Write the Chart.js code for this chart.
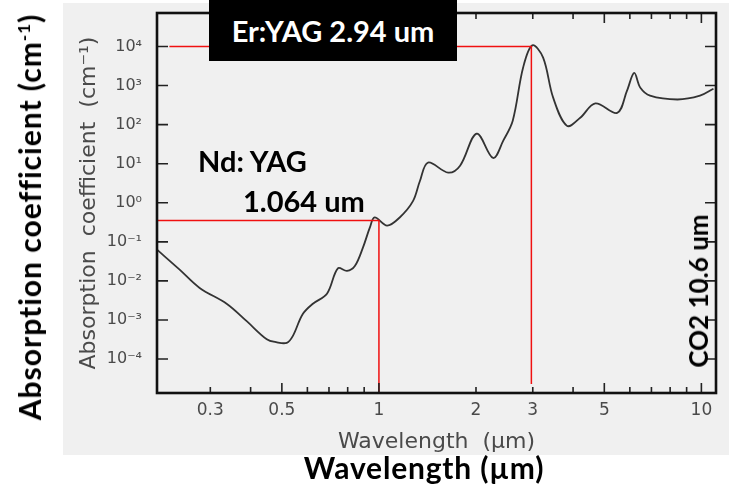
<!DOCTYPE html>
<html>
<head>
<meta charset="utf-8">
<script src="https://cdn.jsdelivr.net/npm/chart.js@4/dist/chart.umd.min.js"></script>
<style>
  html, body { margin: 0; padding: 0; background: #fff; }
  #wrap { position: relative; width: 729px; height: 487px; overflow: hidden; }
  #scan { position: absolute; left: 63px; top: 3px; width: 666px; height: 452px; background: #f0f0f0; }
  canvas { position: absolute; left: 0; top: 0; }
  .lbl { position: absolute; font-family: "Lato", "Open Sans", sans-serif; font-weight: 700; color: #000; white-space: nowrap; line-height: 1; }
  #erBox { left: 209px; top: 0; width: 248px; height: 61px; background: #000; color: #fff; font-size: 29px; display: flex; align-items: center; justify-content: center; }
  #nd1 { left: 198px; top: 146px; font-size: 29px; }
  #nd2 { left: 243px; top: 186px; font-size: 29px; }
  #co2 { left: 698px; top: 291px; font-size: 26px; transform: translate(-50%, -50%) rotate(-90deg); }
  #yTitle { left: 29px; top: 217px; font-size: 30px; letter-spacing: 1px; transform: translate(-50%, -50%) rotate(-90deg); }
  #yTitle sup { font-size: 17px; vertical-align: 11px; }
  #xTitle { left: 424px; top: 467px; font-size: 30px; letter-spacing: 0.8px; transform: translate(-50%, -50%); }
</style>
</head>
<body>
<div id="wrap">
  <div id="scan"></div>
  <canvas id="chart" width="729" height="487"></canvas>
  <div class="lbl" id="erBox">Er:YAG 2.94 um</div>
  <div class="lbl" id="nd1">Nd: YAG</div>
  <div class="lbl" id="nd2">1.064 um</div>
  <div class="lbl" id="co2">CO2 10.6 um</div>
  <div class="lbl" id="yTitle">Absorption coefficient (cm<sup>-1</sup>)</div>
  <div class="lbl" id="xTitle">Wavelength (µm)</div>
</div>
<script>
// absorption of water
const wavelengths = [0.205, 0.24, 0.278, 0.337, 0.389, 0.449, 0.48, 0.518, 0.541, 0.58, 0.624, 0.69, 0.746, 0.796, 0.842, 0.892, 0.937, 0.97,
  1.06, 1.16, 1.275, 1.34, 1.42, 1.64, 1.785, 2.01, 2.26, 2.43, 2.6, 2.8, 2.99, 3.23, 3.47, 3.83, 4.21, 4.69, 5.48, 5.88, 6.19, 6.46, 6.93, 8.43, 9.9, 10.9];
const absorption = [0.063, 0.02, 0.0066, 0.0026, 0.00093, 0.00032, 0.00027, 0.00026, 0.00039, 0.0014, 0.0026, 0.0047, 0.021, 0.018, 0.024, 0.071, 0.23, 0.42,
  0.26, 0.42, 1.1, 3.6, 10.7, 5.9, 8.9, 59, 14, 39, 126, 2900, 10700, 5200, 490, 93, 150, 350, 200, 740, 2100, 890, 550, 440, 550, 830];

// laser marker lines
const ndWavelength = 1.0;
const ndLevel = 0.35;
const erWavelength = 2.97;
const erLevel = 1e4;
const erLineStart = 0.224;
const erLineEnd = 2.3e-5;

const xMin = 0.205, xMax = 11.1;
const yMin = 1.35e-5, yMax = 7.2e4;
const yExponents = [-4, -3, -2, -1, 0, 1, 2, 3, 4];
const xTickValues = [0.3, 0.4, 0.5, 0.6, 0.7, 0.8, 0.9, 1, 2, 3, 4, 5, 6, 7, 8, 9, 10];
const xTickLabels = { 0.3: "0.3", 0.5: "0.5", 1: "1", 2: "2", 3: "3", 5: "5", 10: "10" };
const xMajor = [0.5, 1, 5, 10];

const sup = { "-": "⁻", "0": "⁰", "1": "¹", "2": "²", "3": "³", "4": "⁴" };
const powLabel = (v) => "10" + String(Math.round(Math.log10(v))).split("").map((c) => sup[c]).join("");

const scanFont = "'DejaVu Sans', 'Liberation Sans', sans-serif";
const scanGray = "#4a4a4a";

// inward tick marks and a closed frame, like the printed figure
const frame = {
  id: "frame",
  afterDraw(chart) {
    const { ctx, chartArea: a, scales } = chart;
    ctx.save();
    ctx.strokeStyle = "#222";
    ctx.lineWidth = 1.6;
    ctx.beginPath();
    for (const t of scales.x.ticks) {
      const px = scales.x.getPixelForValue(t.value);
      const len = xMajor.includes(t.value) ? 10 : 6;
      ctx.moveTo(px, a.bottom); ctx.lineTo(px, a.bottom - len);
      ctx.moveTo(px, a.top); ctx.lineTo(px, a.top + len);
    }
    for (const t of scales.y.ticks) {
      const py = scales.y.getPixelForValue(t.value);
      ctx.moveTo(a.left, py); ctx.lineTo(a.left + 11, py);
      ctx.moveTo(a.right, py); ctx.lineTo(a.right - 11, py);
    }
    ctx.stroke();
    ctx.lineWidth = 2.6;
    ctx.strokeStyle = "#111";
    ctx.strokeRect(a.left, a.top, a.right - a.left, a.bottom - a.top);
    ctx.restore();
  }
};

new Chart(document.getElementById("chart"), {
  type: "line",
  data: {
    datasets: [
      {
        data: wavelengths.map((w, i) => ({ x: w, y: absorption[i] })),
        borderColor: "#333",
        borderWidth: 1.8,
        pointRadius: 0,
        tension: 0.35,
        order: 2
      },
      {
        data: [{ x: xMin, y: ndLevel }, { x: ndWavelength, y: ndLevel }, { x: ndWavelength, y: yMin }],
        borderColor: "#f01010",
        borderWidth: 1.5,
        pointRadius: 0,
        tension: 0,
        order: 1
      },
      {
        data: [{ x: erLineStart, y: erLevel }, { x: erWavelength, y: erLevel }, { x: erWavelength, y: erLineEnd }],
        borderColor: "#f01010",
        borderWidth: 1.5,
        pointRadius: 0,
        tension: 0,
        order: 1
      }
    ]
  },
  options: {
    responsive: false,
    devicePixelRatio: 1,
    animation: false,
    layout: { padding: { left: 63, top: 13, right: 13, bottom: 32 } },
    plugins: { legend: { display: false }, tooltip: { enabled: false } },
    scales: {
      x: {
        type: "logarithmic",
        min: xMin,
        max: xMax,
        afterBuildTicks: (s) => { s.ticks = xTickValues.map((v) => ({ value: v })); },
        afterFit: (s) => { s.height = 62; s.paddingLeft = 0; s.paddingRight = 0; },
        grid: { display: false, drawTicks: false },
        border: { display: false },
        ticks: {
          autoSkip: false,
          maxRotation: 0,
          padding: 7,
          color: scanGray,
          font: { family: scanFont, size: 17 },
          callback: (v) => xTickLabels[v] || ""
        },
        title: {
          display: true,
          text: "Wavelength  (µm)",
          color: scanGray,
          font: { family: scanFont, size: 22 },
          padding: { top: 5, bottom: 0 }
        }
      },
      y: {
        type: "logarithmic",
        min: yMin,
        max: yMax,
        afterBuildTicks: (s) => { s.ticks = yExponents.map((e) => ({ value: Math.pow(10, e) })); },
        afterFit: (s) => { s.width = 94; s.paddingTop = 0; s.paddingBottom = 0; },
        grid: { display: false, drawTicks: false },
        border: { display: false },
        ticks: {
          padding: 15,
          color: scanGray,
          font: { family: scanFont, size: 16 },
          callback: (v) => powLabel(v)
        },
        title: {
          display: true,
          text: "Absorption  coefficient  (cm⁻¹)",
          color: scanGray,
          font: { family: scanFont, size: 22 },
          padding: { top: 13, bottom: 0 }
        }
      }
    }
  },
  plugins: [frame]
});
</script>
</body>
</html>
